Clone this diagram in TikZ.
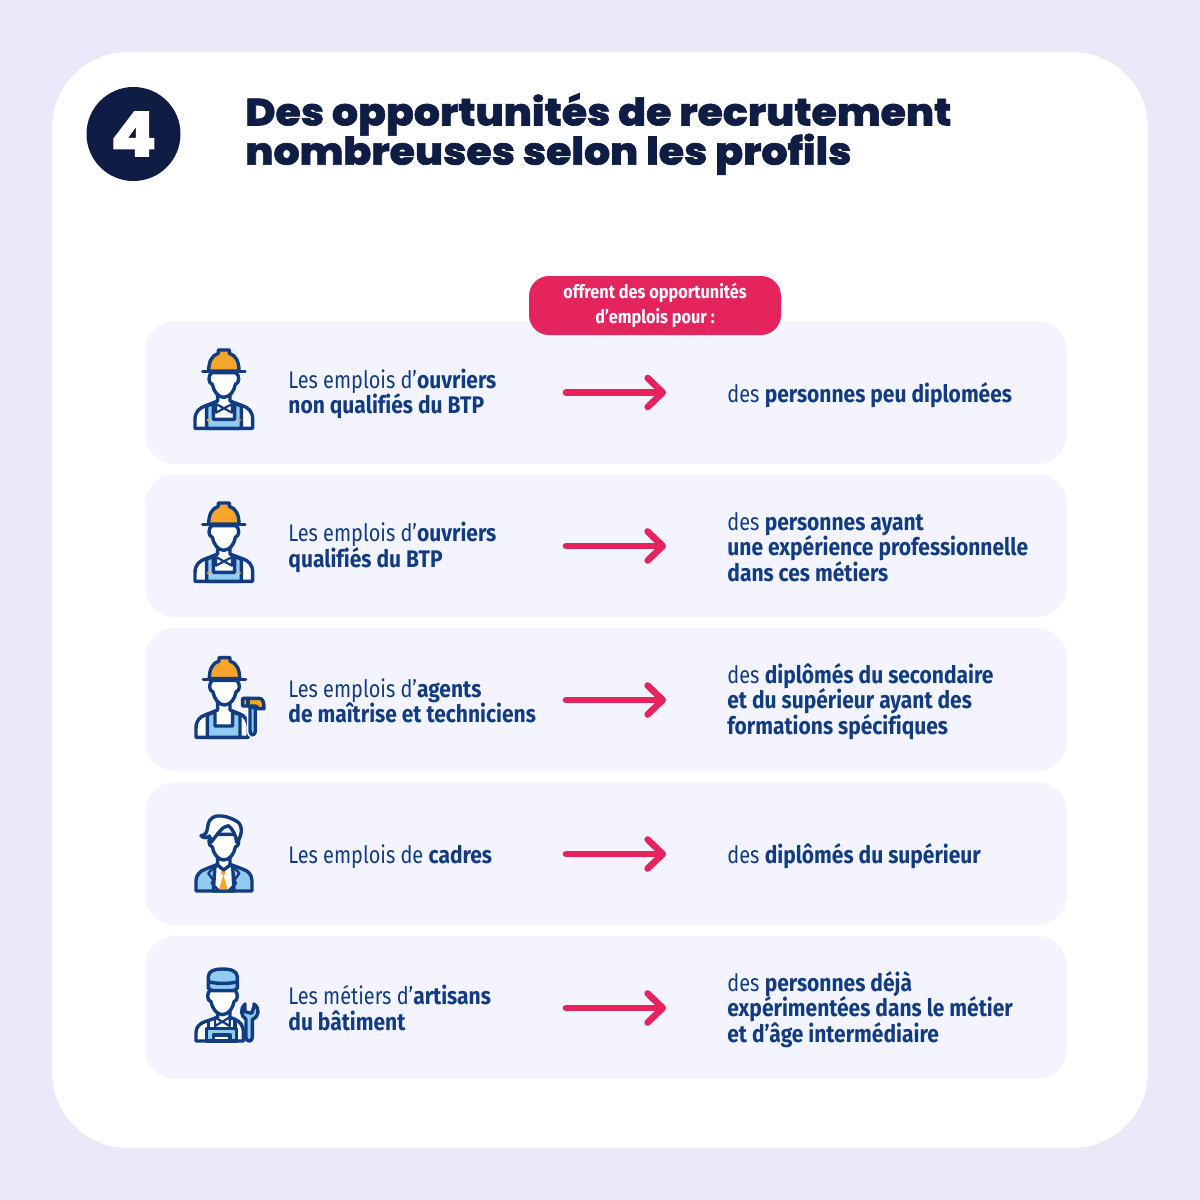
\documentclass[tikz,border=0pt]{standalone}
\usepackage{fontspec}
\usetikzlibrary{arrows.meta}
\setmainfont{Fira Sans}[Ligatures=NoCommon,UprightFeatures={FakeStretch=0.83},BoldFeatures={FakeStretch=0.875}]
\newfontfamily\titlefont{Poppins ExtraBold}[FakeStretch=1.08,FakeBold=1.6]
\newcommand\tightlines{\setlength\lineskiplimit{-20pt}\setlength\lineskip{0pt}}
\definecolor{pagebg}{HTML}{EAE9FA}
\definecolor{cardbg}{HTML}{F3F4FF}
\definecolor{navy}{HTML}{0F1C44}
\definecolor{ink}{HTML}{123C82}
\definecolor{pinkc}{HTML}{E5245E}
\definecolor{orangec}{HTML}{F5A52A}
\definecolor{skyc}{HTML}{92CBF1}
\tikzset{
  rowcard/.style={fill=cardbg,rounded corners=15pt},
  rowtext/.style={text=ink,align=left,font=\fontsize{12}{12.7}\selectfont,inner sep=0pt,anchor=west},
  rowarrow/.style={draw=pinkc,line width=3.3pt,line cap=round,line join=round,-{Straight Barb[length=7.5pt,width=14.5pt,line width=3.3pt,round]}},
  ic/.style={draw=ink,line width=1.7pt,line join=round,line cap=round},
  icon/.style={x=0.16667pt,y=-0.16667pt},
  headshape/.pic={
    \path[ic,fill=white] (95,98) .. controls (84,106) and (84,130) .. (97,133) .. controls (100,152) and (114,172) .. (131,172) .. controls (150,172) and (163,152) .. (166,133) .. controls (179,130) and (179,106) .. (168,98) -- cycle;
  },
  torso/.pic={
    \path[ic,fill=white] (45,265) -- (45,238) .. controls (45,215) and (60,203) .. (75,198) -- (113,183) -- (113,160) -- (150,160) -- (150,183) -- (190,198) .. controls (205,203) and (218,215) .. (218,238) -- (218,265) -- cycle;
  },
  hardhat/.pic={
    \path[ic,fill=orangec] (86,93) .. controls (86,65) and (95,46) .. (115,40) -- (115,30) -- (148,30) -- (148,40) .. controls (168,46) and (177,65) .. (177,93) -- cycle;
    \draw[ic] (68,95) -- (195,95);
  },
  worker/.pic={
    \pic{torso};
    \path[ic,fill=skyc] (80,198) -- (100,191) -- (100,238) -- (164,238) -- (164,191) -- (184,198) -- (184,265) -- (80,265) -- cycle;
    \fill[orangec] (85,240) circle (5) (178,240) circle (5);
    \path[draw=ink,line width=1.1pt,line join=round,fill=white] (132,205) -- (108,192) -- (108,218) -- cycle (132,205) -- (156,192) -- (156,218) -- cycle;
    \pic{headshape};
    \pic{hardhat};
  },
  foreman/.pic={
    \path[ic,fill=white] (48,262) -- (48,235) .. controls (48,212) and (60,200) .. (75,195) -- (113,180) -- (113,155) -- (150,155) -- (150,180) -- (180,192) .. controls (195,198) and (205,212) .. (205,235) -- (205,262) -- cycle;
    \path[ic,fill=skyc] (82,194) -- (105,186) -- (105,228) -- (158,228) -- (158,186) -- (180,194) -- (180,262) -- (82,262) -- cycle;
    \pic at (2,-7) {headshape};
    \pic at (2,-7) {hardhat};
    \path[draw=white,line width=1.5pt,fill=skyc] (205,172) -- (230,172) -- (230,240) .. controls (230,266) and (205,266) .. (205,240) -- cycle;
    \path[ic,fill=skyc] (210,172) -- (226,172) -- (226,240) .. controls (226,260) and (210,260) .. (210,240) -- cycle;
    \path[ic,fill=orangec] (188,145) -- (238,145) .. controls (250,145) and (252,160) .. (252,176) -- (233,176) .. controls (233,170) and (230,168) .. (225,168) -- (188,168) -- cycle;
    \draw[ic] (204,145) -- (204,168);
  },
  manager/.pic={
    \path[ic,fill=skyc] (48,258) -- (48,228) .. controls (48,210) and (60,198) .. (75,193) -- (113,178) -- (150,178) -- (190,193) .. controls (205,198) and (216,210) .. (216,228) -- (216,258) -- cycle;
    \path[ic,fill=white] (105,182) -- (100,258) -- (162,258) -- (158,182) -- cycle;
    \fill[orangec] (130,208) -- (118,252) -- (142,252) -- cycle;
    \fill[orangec] (130,203) circle (7);
    \draw[ic,line width=1.2pt] (105,182) -- (85,205) -- (100,225) -- (95,235) -- (118,258) (158,182) -- (178,205) -- (163,225) -- (168,235) -- (145,258);
    \path[ic,fill=white] (113,155) -- (113,180) -- (131,195) -- (150,180) -- (150,155) -- cycle;
    \path[shift={(0,-2)},ic,fill=white] (95,90) .. controls (84,100) and (84,125) .. (97,128) .. controls (100,147) and (114,167) .. (131,167) .. controls (150,167) and (163,147) .. (166,128) .. controls (179,125) and (179,105) .. (168,90) -- cycle;
    \path[ic,fill=white] (93,112) .. controls (90,100) and (92,95) .. (88,93) .. controls (82,100) and (70,100) .. (63,92) .. controls (80,92) and (82,75) .. (84,60) .. controls (88,38) and (105,30) .. (125,33) .. controls (145,35) and (158,42) .. (172,50) .. controls (190,62) and (186,95) .. (170,112) .. controls (168,90) and (158,72) .. (145,62) .. controls (125,65) and (115,85) .. (93,112) -- cycle;
  },
  artisan/.pic={
    \path[ic,fill=white] (48,243) -- (48,218) .. controls (48,200) and (60,190) .. (75,185) -- (113,172) -- (113,150) -- (150,150) -- (150,172) -- (165,178) .. controls (180,185) and (190,195) .. (190,218) -- (190,243) -- cycle;
    \path[ic,fill=skyc] (80,243) -- (80,205) -- (170,205) -- (170,243) -- cycle;
    \path[ic,fill=white] (100,225) -- (150,225) -- (150,243) -- (100,243) -- cycle;
    \draw[ic] (85,183) -- (85,205) (165,180) -- (165,205);
    \path[draw=ink,line width=1.1pt,line join=round,fill=white] (127,185) -- (105,172) -- (105,198) -- cycle (127,185) -- (149,172) -- (149,198) -- cycle;
    \pic at (-4,-8) {headshape};
    \path[ic,fill=skyc] (85,85) -- (85,50) .. controls (85,32) and (105,27) .. (127,27) .. controls (150,27) and (172,32) .. (172,50) -- (172,85) -- (160,92) -- (97,92) -- cycle;
    \draw[ic] (85,65) .. controls (110,72) and (150,72) .. (172,65);
    \path[ic,fill=skyc] (198,233) -- (198,178) .. controls (182,168) and (180,145) .. (195,132) -- (195,155) -- (215,160) -- (222,140) -- (222,132) .. controls (240,145) and (238,170) .. (217,178) -- (217,233) .. controls (217,246) and (198,246) .. (198,233) -- cycle;
  },
}
\begin{document}
\begin{tikzpicture}[x=0.5pt,y=-0.5pt]
\useasboundingbox (0,0) rectangle (1200,1200);
\fill[pagebg] (0,0) rectangle (1200,1200);
\fill[white,rounded corners=38pt] (52,52) rectangle (1148,1148);
\node[circle,fill=navy,minimum size=47pt,inner sep=0pt,text=white,font=\titlefont\fontsize{31}{31}\selectfont] (num) at (133.5,134) {4};
\node[anchor=west,inner sep=0pt,align=left,text=navy,font=\titlefont\fontsize{19}{19.6}\selectfont\tightlines] (title) at (245,134) {Des opportunités de recrutement\\nombreuses selon les profils};
\foreach \yt/\yb in {321/464,474/617,628/771,782/925,936/1079}
  \fill[rowcard] (145,\yt) rectangle (1067,\yb);
\node[fill=pinkc,rounded corners=10pt,minimum width=126pt,minimum height=29.5pt,inner sep=0pt,align=center,text=white,font=\bfseries\fontsize{9.3}{12.4}\selectfont] (badge) at (655,305.5) {offrent des opportunités\\d’emplois pour :};
% rows
\foreach \n/\y in {a/392.5,b/546,c/700,d/854,e/1008}{
  \coordinate (s\n) at (566,\y);
  \coordinate (t\n) at (666,\y);
  \draw[rowarrow] (s\n) -- (t\n);
}
\node[rowtext] (la) at (288,394) {Les emplois d’\textbf{ouvriers}\\\textbf{non qualifiés du BTP}};
\node[rowtext] (lb) at (288,547.5) {Les emplois d’\textbf{ouvriers}\\\textbf{qualifiés du BTP}};
\node[rowtext] (lc) at (288,701) {Les emplois d’\textbf{agents}\\\textbf{de maîtrise et techniciens}};
\node[rowtext] (ld) at (288,857) {Les emplois de \textbf{cadres}};
\node[rowtext] (le) at (288,1008) {Les métiers d’\textbf{artisans}\\\textbf{du bâtiment}};
\node[rowtext] (ra) at (727,395) {des \textbf{personnes peu diplomées}};
\node[rowtext] (rb) at (727,547) {des \textbf{personnes ayant}\\\textbf{une expérience professionnelle}\\\textbf{dans ces métiers}};
\node[rowtext] (rc) at (727,701.5) {des \textbf{diplômés du secondaire}\\\textbf{et du supérieur ayant des}\\\textbf{formations spécifiques}};
\node[rowtext] (rd) at (727,856) {des \textbf{diplômés du supérieur}};
\node[rowtext] (re) at (727,1009.5) {des \textbf{personnes déjà}\\\textbf{expérimentées dans le métier}\\\textbf{et d’âge intermédiaire}};
% icons
\begin{scope}[shift={(180,340)},icon] \pic{worker}; \end{scope}
\begin{scope}[shift={(180,493)},icon] \pic{worker}; \end{scope}
\begin{scope}[shift={(180,650)},icon] \pic{foreman}; \end{scope}
\begin{scope}[shift={(180,805)},icon] \pic{manager}; \end{scope}
\begin{scope}[shift={(180,960)},icon] \pic{artisan}; \end{scope}
\end{tikzpicture}
\end{document}
